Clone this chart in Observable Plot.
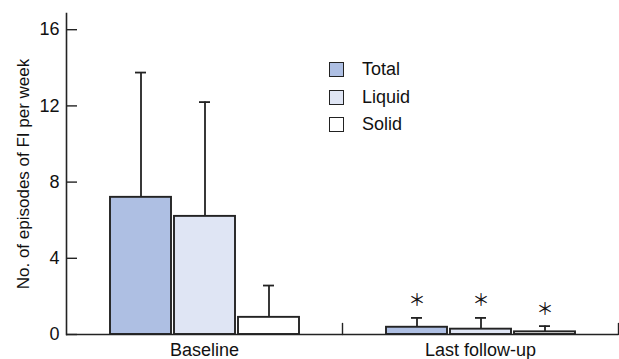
<!DOCTYPE html>
<html><head><meta charset="utf-8">
<script src="https://cdn.jsdelivr.net/npm/d3@7"></script>
<script src="https://cdn.jsdelivr.net/npm/@observablehq/plot@0.6"></script>
<style>
body{margin:0;background:#fff;}
#wrap{position:relative;width:619px;height:359px;font-family:"Liberation Sans",Arial,sans-serif;}
#legend{position:absolute;left:329px;top:56px;}
.item{display:flex;align-items:center;height:27.5px;font-size:18px;color:#111;}
.sw{width:15px;height:15px;box-sizing:border-box;border:1.6px solid #222;margin-right:18px;}
</style></head><body><div id="wrap"><div id="legend"></div></div>
<script>
// ---- data ----
const groups = ["Baseline", "Last follow-up"];
const series = ["Total", "Liquid", "Solid"];
const baselineMean = [7.2, 6.2, 0.9];
const baselineSD = [6.55, 6.0, 1.67];
const followUpMean = [0.38, 0.28, 0.14];
const followUpSD = [0.49, 0.59, 0.30];
const baselineMarkers = ["", "", ""];
const followUpMarkers = ["＊", "＊", "＊"];
const yTicks = [0, 4, 8, 12, 16];
const yLabel = "No. of episodes of FI per week";

const palette = ["#aebfe3", "#dfe5f4", "#ffffff"];
const ink = "#232323";

const rows = [];
series.forEach((s, i) => {
  rows.push({group: groups[0], series: s, value: baselineMean[i], sd: baselineSD[i], marker: baselineMarkers[i]});
});
series.forEach((s, i) => {
  rows.push({group: groups[1], series: s, value: followUpMean[i], sd: followUpSD[i], marker: followUpMarkers[i]});
});
const upper = d => d.value + d.sd;
const tickUp = {draw(context, l) { context.moveTo(0, 0); context.lineTo(0, -l); }};

const chart = Plot.plot({
  width: 619,
  height: 359,
  marginLeft: 65,
  marginRight: 1,
  marginTop: 13,
  marginBottom: 25,
  style: {fontFamily: "'Liberation Sans', Arial, sans-serif", fontSize: "18px", color: "#111", background: "#fff"},
  fx: {domain: groups, padding: 0, label: null},
  x: {domain: series, paddingInner: 0.05, paddingOuter: 0.65, axis: null},
  y: {domain: [0, 16.85]},
  color: {domain: series, range: palette},
  marks: [
    Plot.barY(rows, {fx: "group", x: "series", y: "value", fill: "series", stroke: ink, strokeWidth: 1.9}),
    Plot.ruleX(rows, {fx: "group", x: "series", y1: "value", y2: upper, stroke: ink, strokeWidth: 1.8}),
    Plot.tickY(rows, {fx: "group", x: "series", y: upper, stroke: ink, strokeWidth: 1.8, insetLeft: 25, insetRight: 25}),
    Plot.text(rows.filter(d => d.marker), {fx: "group", x: "series", y: upper, text: "marker", fontFamily: "'Noto Sans CJK JP', sans-serif", fontSize: 17, lineAnchor: "middle", dy: -17, fill: "#111"}),
    Plot.ruleY([0], {stroke: ink, strokeWidth: 1.6}),
    Plot.frame({anchor: "left", facetAnchor: "left", stroke: ink, strokeWidth: 1.6}),
    Plot.vector([0], {frameAnchor: "bottom-right", length: 11, rotate: 0, anchor: "start", shape: tickUp, stroke: ink, strokeWidth: 1.4}),
    Plot.axisY({ticks: yTicks, tickSize: -11, tickPadding: 18, stroke: ink, strokeWidth: 1.4, label: null}),
    Plot.axisY({ticks: [], tickSize: 0, fontSize: 17, label: yLabel, labelAnchor: "center", labelOffset: 50, labelArrow: "none"}),
    Plot.axisFx({anchor: "bottom", tickSize: 0, tickPadding: 9, label: null})
  ]
});
const wrap = document.getElementById("wrap");
wrap.insertBefore(chart, wrap.firstChild);

const legend = document.getElementById("legend");
series.forEach((s, i) => {
  const item = document.createElement("div");
  item.className = "item";
  const sw = document.createElement("span");
  sw.className = "sw";
  sw.style.background = palette[i];
  item.appendChild(sw);
  item.appendChild(document.createTextNode(s));
  legend.appendChild(item);
});
</script>
</body></html>
